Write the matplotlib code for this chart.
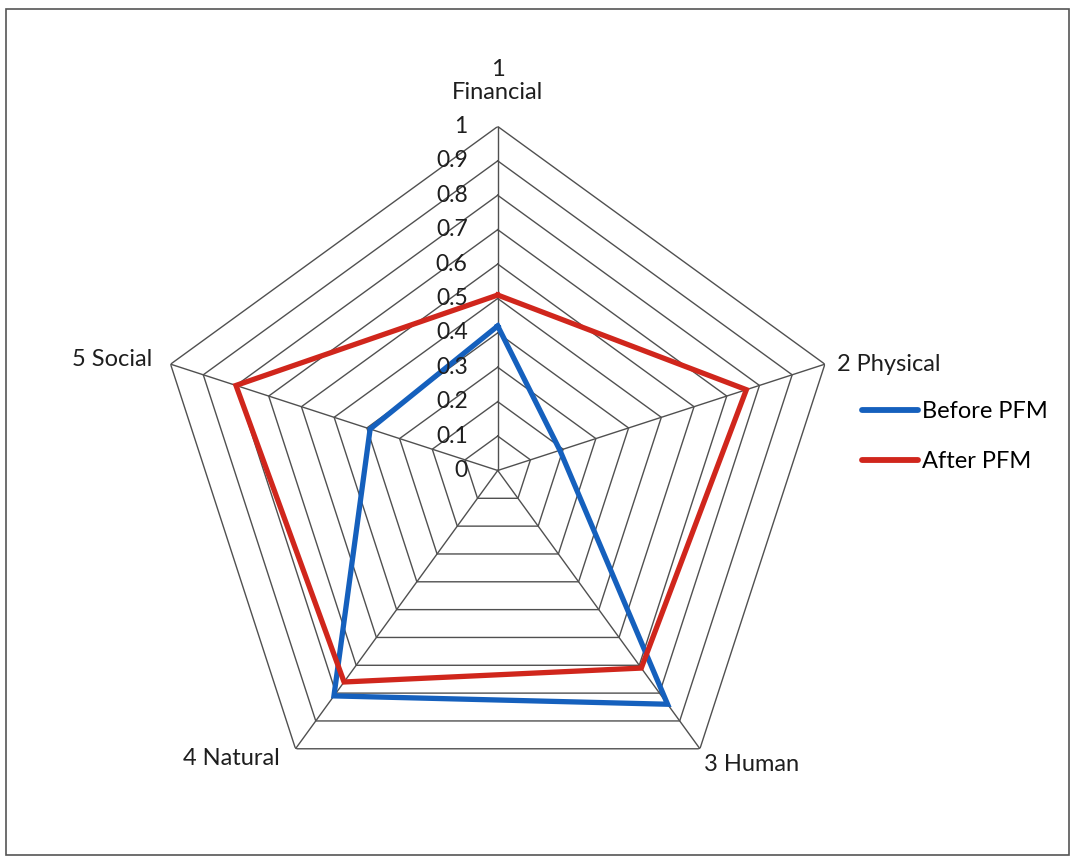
import numpy as np
import matplotlib
matplotlib.use("Agg")
import matplotlib.pyplot as plt
from matplotlib.patches import Rectangle

plt.rcParams['font.family'] = ['Lato', 'DejaVu Sans']

# capitals, in clockwise order from the top
categories = ['1\nFinancial', '2 Physical', '3 Human', '4 Natural', '5 Social']
before_pfm = [0.42, 0.19, 0.84, 0.81, 0.39]
after_pfm = [0.51, 0.76, 0.71, 0.76, 0.80]
rings = [0.1, 0.2, 0.3, 0.4, 0.5, 0.6, 0.7, 0.8, 0.9, 1.0]
tick_labels = ['0', '0.1', '0.2', '0.3', '0.4', '0.5', '0.6', '0.7', '0.8', '0.9', '1']

n = len(categories)
theta = np.arange(n) * 2 * np.pi / n
theta_c = np.append(theta, theta[0])

fig = plt.figure(figsize=(10.75, 8.59), dpi=100)
ax = fig.add_axes([0.143, 0.0518, 0.640, 0.801], polar=True)
ax.set_theta_offset(np.pi / 2)
ax.set_theta_direction(-1)
ax.set_ylim(0, 1)
ax.grid(False)
ax.spines['polar'].set_visible(False)
ax.set_xticks([])
ax.set_yticks([])
ax.patch.set_alpha(0)

grid_col = '#505050'
# pentagon rings and spokes
for r in rings:
    ax.plot(theta_c, [r] * (n + 1), color=grid_col, lw=1.0, zorder=1)
for t in theta:
    ax.plot([t, t], [0, 1], color=grid_col, lw=1.0, zorder=1)

def closed(vals):
    return list(vals) + [vals[0]]

ax.plot(theta_c, closed(before_pfm), color='#1560bd', lw=3.8,
        solid_joinstyle='miter', label='Before PFM', zorder=3)
ax.plot(theta_c, closed(after_pfm), color='#d0261c', lw=3.8,
        solid_joinstyle='miter', label='After PFM', zorder=3)

# value labels up the first spoke
for i, lab in enumerate(tick_labels):
    ax.annotate(lab, xy=(0, i / 10), xytext=(-30, 0), textcoords='offset pixels',
                ha='right', va='center', fontsize=16.5, color='#1e1e1e', zorder=4)

# category labels around the outside
offsets = [(0, 23, 'center', 'bottom'), (12, 0, 'left', 'center'),
           (4, -16, 'left', 'center'), (-16, -10, 'right', 'center'),
           (-18, 5, 'right', 'center')]
for t, lab, (dx, dy, ha, va) in zip(theta, categories, offsets):
    ax.annotate(lab, xy=(t, 1), xytext=(dx, dy), textcoords='offset pixels',
                ha=ha, va=va, fontsize=17, color='#1e1e1e', linespacing=1.15)

leg = fig.legend(loc='center left', bbox_to_anchor=(0.802, 0.492),
                 bbox_transform=fig.transFigure, frameon=False, fontsize=17,
                 borderpad=0, borderaxespad=0, handlelength=2.37,
                 handletextpad=0.17, labelspacing=1.22)
for h in leg.get_lines():
    h.set_solid_capstyle('round')
    h.set_linewidth(4.2)

fig.patches.append(Rectangle((6 / 1075, 4 / 859), 1063 / 1075, 846 / 859,
                             transform=fig.transFigure, fill=False,
                             edgecolor='#555555', lw=1.2))

fig.savefig('out.png', dpi=100)
